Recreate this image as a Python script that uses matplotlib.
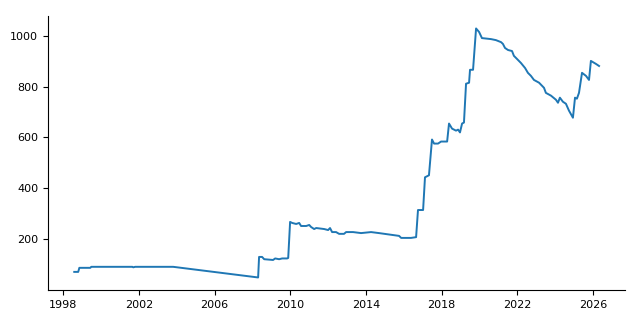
import matplotlib
matplotlib.use("Agg")
import matplotlib.pyplot as plt

# fractional years and values
years = [
    1998.58, 1998.79, 1998.85, 1999.43, 1999.48, 2001.65, 2001.70, 2001.80,
    2003.81, 2008.30, 2008.35, 2008.51, 2008.62, 2009.09, 2009.20, 2009.41,
    2009.57, 2009.83, 2009.89, 2009.99, 2010.10, 2010.31, 2010.47, 2010.57,
    2010.84, 2011.00, 2011.10, 2011.26, 2011.37, 2011.79, 2012.00, 2012.10,
    2012.21, 2012.42, 2012.58, 2012.84, 2012.95, 2013.32, 2013.74, 2014.27,
    2014.69, 2015.75, 2015.86, 2016.38, 2016.65, 2016.75, 2017.02, 2017.12,
    2017.33, 2017.49, 2017.60, 2017.81, 2017.97, 2018.29, 2018.39, 2018.55,
    2018.76, 2018.87, 2018.97, 2019.08, 2019.18, 2019.29, 2019.45, 2019.50,
    2019.66, 2019.82, 2019.98, 2020.13, 2020.61, 2020.87, 2021.14, 2021.24,
    2021.35, 2021.51, 2021.72, 2021.82, 2021.98, 2022.19, 2022.41, 2022.56,
    2022.72, 2022.88, 2023.15, 2023.41, 2023.51, 2023.78, 2024.04, 2024.15,
    2024.25, 2024.41, 2024.57, 2024.73, 2024.94, 2025.05, 2025.15, 2025.26,
    2025.42, 2025.63, 2025.79, 2025.89, 2026.16, 2026.32,
]
values = [
    70, 70, 86, 86, 90, 90, 88, 90,
    90, 48, 129, 129, 120, 117, 123, 120,
    123, 123, 125, 267, 263, 259, 263, 251,
    251, 255, 247, 239, 243, 239, 235, 243,
    227, 227, 220, 220, 227, 227, 223, 227,
    223, 212, 204, 204, 207, 314, 314, 443,
    451, 592, 576, 576, 584, 584, 655, 635,
    627, 631, 620, 655, 659, 812, 816, 867,
    867, 1030, 1016, 992, 988, 984, 976, 969,
    953, 945, 941, 922, 910, 894, 874, 855,
    843, 827, 816, 796, 776, 765, 749, 737,
    757, 741, 733, 706, 678, 757, 753, 776,
    855, 843, 827, 902, 890, 882,
]
xticks = [1998, 2002, 2006, 2010, 2014, 2018, 2022, 2026]


def main():
    fig, ax = plt.subplots(figsize=(6.4, 3.2), dpi=100)
    ax.plot(years, values, color="C0", lw=1.4)
    ax.set_xticks(xticks)
    ax.set_xticklabels([str(y) for y in xticks])
    ax.set_yticks([200, 400, 600, 800, 1000])
    for spine in ["top", "right"]:
        ax.spines[spine].set_visible(False)
    ax.tick_params(labelsize=8)
    fig.subplots_adjust(left=0.075, right=0.977, top=0.95, bottom=0.094)
    fig.savefig("out.png", dpi=100)


if __name__ == "__main__":
    main()
